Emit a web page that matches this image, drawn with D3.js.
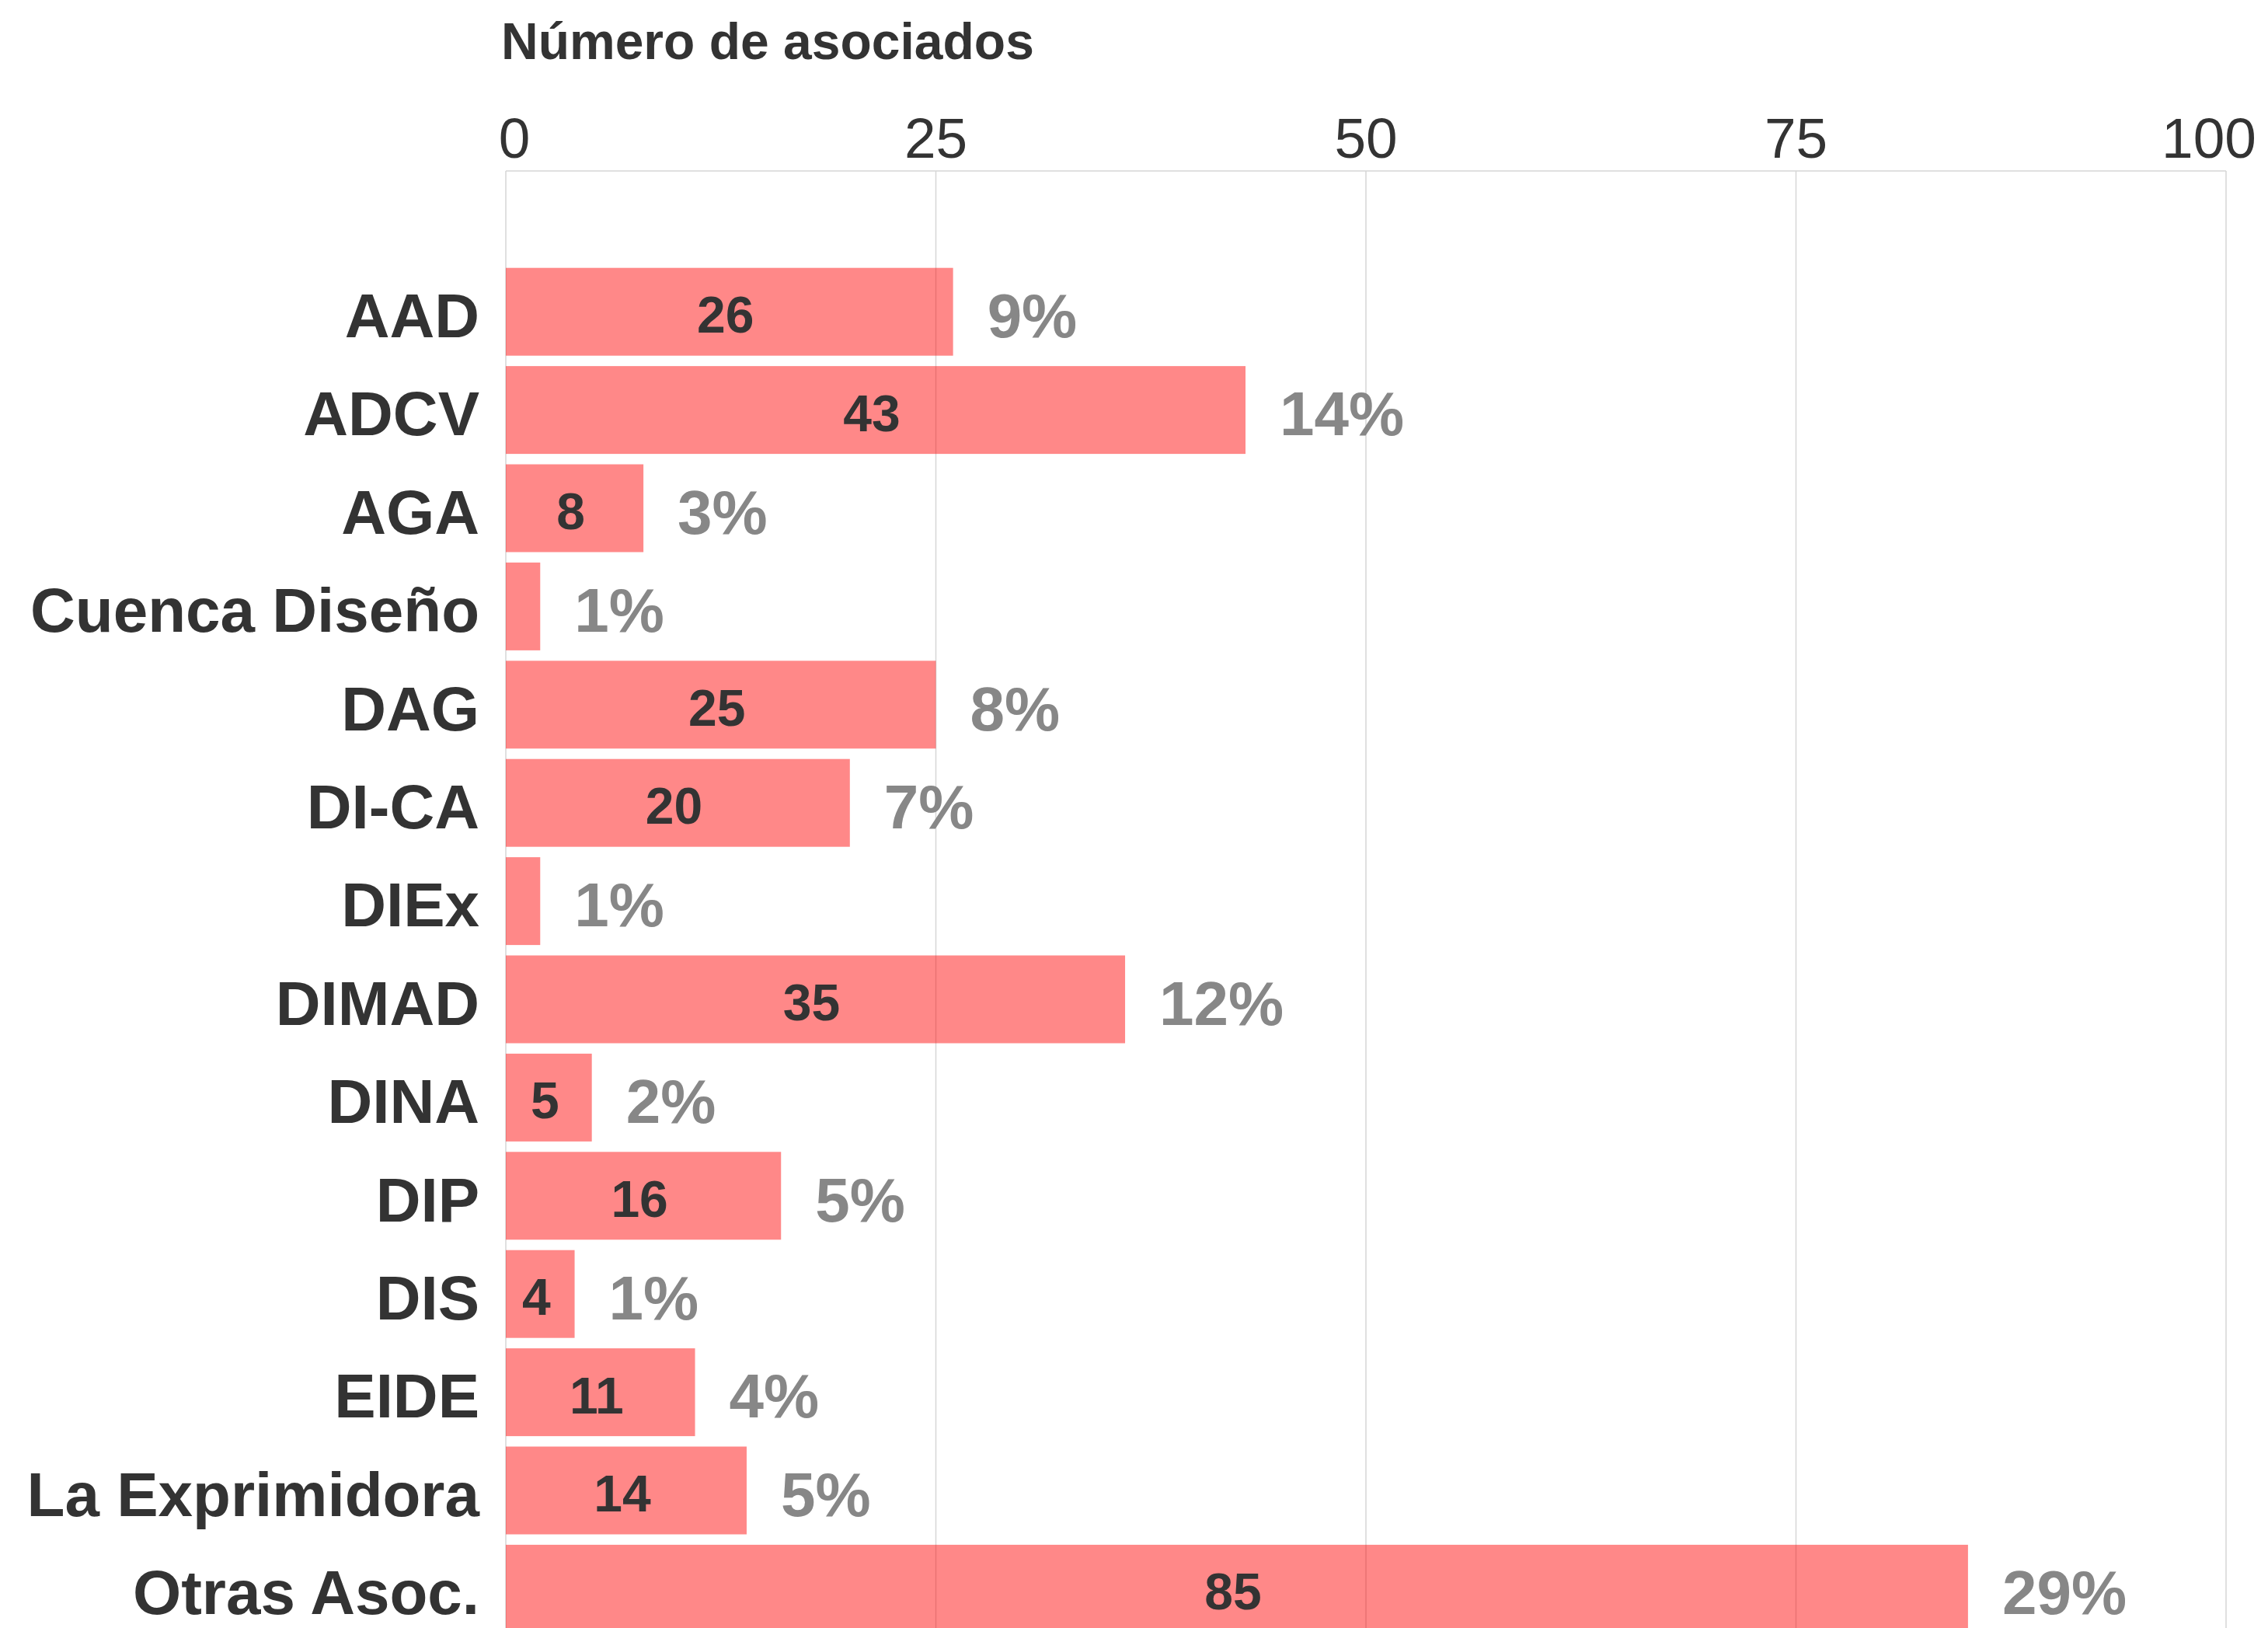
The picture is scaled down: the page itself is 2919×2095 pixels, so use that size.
<!DOCTYPE html>
<html>
<head>
<meta charset="utf-8">
<script src="https://cdn.jsdelivr.net/npm/d3@7"></script>
<style>
  html, body { margin: 0; padding: 0; background: #ffffff; }
  svg { display: block; }
</style>
</head>
<body>
<svg id="chart" width="2919" height="2095"></svg>
<script>
// ---- data ----
const categories = ["AAD", "ADCV", "AGA", "Cuenca Diseño", "DAG", "DI-CA", "DIEx", "DIMAD", "DINA", "DIP", "DIS", "EIDE", "La Exprimidora", "Otras Asoc."];
const values = [26, 43, 8, 2, 25, 20, 2, 36, 5, 16, 4, 11, 14, 85];
const countLabels = ["26", "43", "8", null, "25", "20", null, "35", "5", "16", "4", "11", "14", "85"];
const percentLabels = ["9%", "14%", "3%", "1%", "8%", "7%", "1%", "12%", "2%", "5%", "1%", "4%", "5%", "29%"];
const xTicks = [0, 25, 50, 75, 100];
const xTickLabels = ["0", "25", "50", "75", "100"];
const axisTitle = "Número de asociados";

// ---- chart ----
const W = 2919, H = 2095;
const svg = d3.select("#chart");
const boldFont = "'Liberation Sans', Arial, Helvetica, sans-serif";

const x = d3.scaleLinear().domain([0, 100]).range([651, 2865]);
const y = d3.scaleBand().domain(categories).range([338, 2107.6]).paddingInner(0.106).paddingOuter(0.053);
const plotTop = 220;

const rows = categories.map((c, i) => ({ cat: c, v: values[i], count: countLabels[i], pct: percentLabels[i] }));

// top border line
svg.append("line")
  .attr("x1", x(0)).attr("x2", x(100))
  .attr("y1", plotTop).attr("y2", plotTop)
  .attr("stroke", "#d6d6d6").attr("stroke-width", 1.5);

// gridlines
svg.append("g").selectAll("line").data(xTicks).join("line")
  .attr("x1", d => x(d)).attr("x2", d => x(d))
  .attr("y1", plotTop).attr("y2", H)
  .attr("stroke", "#d6d6d6").attr("stroke-width", 1.5);

// bars (semi-transparent so the grid shows through)
svg.append("g").selectAll("rect").data(rows).join("rect")
  .attr("x", x(0))
  .attr("y", d => y(d.cat))
  .attr("width", d => x(d.v) - x(0))
  .attr("height", y.bandwidth())
  .attr("fill", "#ff0000")
  .attr("fill-opacity", 0.467);

// tick labels (top)
svg.append("g").selectAll("text").data(xTicks).join("text")
  .attr("x", d => x(d))
  .attr("dx", (d, i) => i === 0 ? 11 : (i === xTicks.length - 1 ? -22 : 0))
  .attr("y", 203)
  .attr("text-anchor", "middle")
  .attr("font-family", "'Liberation Sans', Arial, sans-serif")
  .attr("font-weight", 400)
  .attr("font-size", 73)
  .attr("fill", "#333333")
  .text((d, i) => xTickLabels[i]);

// axis title
svg.append("text")
  .attr("x", 645).attr("y", 76)
  .attr("font-family", boldFont)
  .attr("font-weight", "bold")
  .attr("font-size", 66)
  .attr("fill", "#333333")
  .text(axisTitle);

// category labels
svg.append("g").selectAll("text").data(rows).join("text")
  .attr("x", x(0) - 34)
  .attr("y", d => y(d.cat) + y.bandwidth() / 2)
  .attr("dy", "0.41em")
  .attr("text-anchor", "end")
  .attr("font-family", boldFont)
  .attr("font-weight", "bold")
  .attr("font-size", 80)
  .attr("fill", "#333333")
  .text(d => d.cat);

// count labels inside bars
svg.append("g").selectAll("text").data(rows.filter(d => d.count !== null)).join("text")
  .attr("x", d => x(d.v / 2))
  .attr("dx", -5)
  .attr("y", d => y(d.cat) + y.bandwidth() / 2)
  .attr("dy", "0.41em")
  .attr("text-anchor", "middle")
  .attr("font-family", boldFont)
  .attr("font-weight", "bold")
  .attr("font-size", 66)
  .attr("fill", "#333333")
  .text(d => d.count);

// percent labels right of bars
svg.append("g").selectAll("text").data(rows).join("text")
  .attr("x", d => x(d.v) + 44)
  .attr("y", d => y(d.cat) + y.bandwidth() / 2)
  .attr("dy", "0.41em")
  .attr("text-anchor", "start")
  .attr("font-family", boldFont)
  .attr("font-weight", "bold")
  .attr("font-size", 80)
  .attr("fill", "#878787")
  .text(d => d.pct);
</script>
</body>
</html>
